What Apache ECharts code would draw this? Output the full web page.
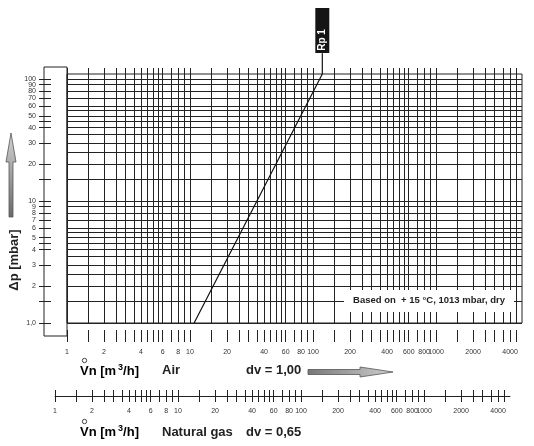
<!DOCTYPE html>
<html>
<head>
<meta charset="utf-8">
<title>Rp 1 - pressure drop</title>
<script src="https://cdn.jsdelivr.net/npm/echarts@6/dist/echarts.min.js"></script>
<style>
  html, body { margin: 0; padding: 0; background: #fff; }
  #chart { width: 534px; height: 446px; }
</style>
</head>
<body>
<div id="chart"></div>
<script>
  // log-log grid lines, flow axis (m3/h)
  const flowGrid = [1, 1.5, 2, 2.5, 3, 3.5, 4, 4.5, 5, 5.5, 6, 7, 8, 9,
    10, 15, 20, 25, 30, 35, 40, 45, 50, 55, 60, 70, 80, 90,
    100, 150, 200, 250, 300, 350, 400, 450, 500, 550, 600, 700, 800, 900,
    1000, 1500, 2000, 2500, 3000, 3500, 4000, 4500];
  const flowLabels = [1, 2, 4, 6, 8, 10, 20, 40, 60, 80, 100, 200, 400, 600, 800, 1000, 2000, 4000];

  // pressure drop axis (mbar)
  const dropGrid = [1, 1.5, 2, 2.5, 3, 3.5, 4, 4.5, 5, 5.5, 6, 7, 8, 9,
    10, 15, 20, 25, 30, 35, 40, 45, 50, 55, 60, 70, 80, 90, 100];
  const dropTicks = [1, 1.5, 2, 3, 4, 4.5, 5, 6, 7, 8, 9, 10, 15, 20, 30, 40, 45, 50, 60, 70, 80, 90, 100];
  const dropLabels = [1, 2, 3, 4, 5, 6, 7, 8, 9, 10, 20, 30, 40, 50, 60, 70, 80, 90, 100];

  // Rp 1 curve (air)
  const rpFlow = [10.8, 119];
  const rpDrop = [1.0, 110];
  const rpTagDrop = 163;

  const flowMin = 1, flowMax = 5000;
  const dropMin = 1, dropMax = 110;

  const ink = '#222';
  const font = 'Liberation Sans, Arial, sans-serif';

  function flowAxis(gridIndex) {
    return {
      type: 'log', logBase: 10, gridIndex: gridIndex, min: flowMin, max: flowMax,
      axisLine: { show: false, onZero: false },
      axisTick: { show: false, customValues: flowGrid },
      axisLabel: { show: false },
      splitLine: { show: true, lineStyle: { color: ink, width: 1 } },
    };
  }
  function bandY(gridIndex) {
    return { type: 'value', gridIndex: gridIndex, min: 0, max: 1, show: false };
  }
  const labelNum = (v) => String(Math.round(v));

  const airAxis = flowAxis(2);
  airAxis.axisLabel = {
    show: true, customValues: flowLabels, formatter: labelNum, hideOverlap: false,
    showMinLabel: true, showMaxLabel: true,
    fontSize: 7, color: '#333', margin: 7,
  };
  const gasAxis = flowAxis(3);
  gasAxis.offset = -6;
  gasAxis.axisLine = { show: true, onZero: false, lineStyle: { color: ink, width: 1 } };
  gasAxis.axisLabel = {
    show: true, customValues: flowLabels, formatter: labelNum, hideOverlap: false,
    showMinLabel: true, showMaxLabel: true,
    fontSize: 7, color: '#333', margin: 12,
  };

  const greyUp = {
    type: 'linear', x: 0, y: 0, x2: 0, y2: 1,
    colorStops: [{ offset: 0, color: '#d4d4d4' }, { offset: 1, color: '#6a6a6a' }],
  };
  const greyRight = {
    type: 'linear', x: 0, y: 0, x2: 1, y2: 0,
    colorStops: [{ offset: 0, color: '#777' }, { offset: 1, color: '#cfcfcf' }],
  };
  const boldText = (text, x, y) => ({
    type: 'text', x: x, y: y,
    style: { text: text, fill: ink, font: 'bold 13px ' + font, verticalAlign: 'middle' },
  });
  const flowUnit = (x, y) => ({
    type: 'text', x: x, y: y,
    style: {
      text: '{t|Vn [m}{s|3}{t|/h]}', verticalAlign: 'middle',
      rich: {
        t: { fontSize: 13, fontWeight: 'bold', fontFamily: font, color: ink, lineHeight: 15 },
        s: { fontSize: 9, fontWeight: 'bold', fontFamily: font, color: ink, lineHeight: 9, verticalAlign: 'top', padding: [0, 0, 0, 2] },
      },
    },
  });
  const ring = (cx, cy) => ({
    type: 'circle', shape: { cx: cx, cy: cy, r: 2.2 },
    style: { fill: 'none', stroke: '#333', lineWidth: 0.9 },
  });

  const chart = echarts.init(document.getElementById('chart'));
  chart.setOption({
    animation: false,
    backgroundColor: '#fff',
    textStyle: { fontFamily: font },
    grid: [
      { left: 67, top: 74, width: 455, height: 249, show: true, borderColor: ink, borderWidth: 1 },
      { left: 67, top: 68, width: 455, height: 6 },
      { left: 67, top: 330, width: 455, height: 12 },
      { left: 55, top: 390, width: 455, height: 12 },
      { left: 39, top: 74, width: 12, height: 249 },
    ],
    xAxis: [
      flowAxis(0),
      flowAxis(1),
      airAxis,
      gasAxis,
      { type: 'value', gridIndex: 4, show: false },
    ],
    yAxis: [
      {
        type: 'log', logBase: 10, gridIndex: 0, min: dropMin, max: dropMax,
        axisLine: { show: false },
        axisTick: { show: false, customValues: dropGrid },
        axisLabel: { show: false },
        splitLine: { show: true, lineStyle: { color: ink, width: 1 } },
      },
      bandY(1),
      bandY(2),
      bandY(3),
      {
        type: 'log', logBase: 10, gridIndex: 4, min: dropMin, max: dropMax,
        axisLine: { show: false },
        axisTick: { show: false, customValues: dropTicks },
        axisLabel: {
          // empty end label at the top so 90 and 100 both stay visible
          customValues: dropLabels.concat([dropMax]), fontSize: 7, lineHeight: 4, color: '#333', margin: 3,
          hideOverlap: false, showMinLabel: true, showMaxLabel: false,
          formatter: (v) => (v > 100.5 ? '' : Math.round(v) === 1 ? '1,0' : labelNum(v)),
        },
        splitLine: { show: true, lineStyle: { color: ink, width: 1 } },
      },
    ],
    graphic: [
      // box behind the pressure drop scale
      { type: 'rect', shape: { x: 44, y: 67, width: 23, height: 269 }, style: { fill: 'none', stroke: ink, lineWidth: 1 } },
      {
        type: 'polygon',
        shape: { points: [[11, 133], [16, 162], [13, 162], [13, 217], [9, 217], [9, 162], [6, 162]] },
        style: { fill: greyUp, stroke: '#555', lineWidth: 0.8 },
      },
      {
        type: 'text', x: 14, y: 260, rotation: Math.PI / 2,
        style: { text: 'Δp [mbar]', fill: ink, font: 'bold 13px ' + font, align: 'center', verticalAlign: 'middle' },
      },
      // conditions note
      { type: 'rect', z: 100, shape: { x: 344, y: 290, width: 170, height: 22 }, style: { fill: '#fff' } },
      {
        type: 'text', z: 101, x: 429, y: 300,
        style: { text: 'Based on  + 15 °C, 1013 mbar, dry', fill: ink, font: 'bold 9.5px ' + font, align: 'center', verticalAlign: 'middle' },
      },
      // air row
      flowUnit(80, 371),
      ring(84.5, 360.5),
      boldText('Air', 162, 370),
      boldText('dv = 1,00', 246, 370),
      {
        type: 'polygon',
        shape: { points: [[308, 369.5], [360, 369.5], [360, 367], [393, 372], [360, 377], [360, 374.5], [308, 374.5]] },
        style: { fill: greyRight, stroke: '#555', lineWidth: 0.8 },
      },
      // natural gas row
      flowUnit(80, 432),
      ring(84.5, 421.5),
      boldText('Natural gas', 162, 432),
      boldText('dv = 0,65', 246, 432),
    ],
    series: [
      {
        name: 'Rp 1',
        type: 'line',
        xAxisIndex: 0,
        yAxisIndex: 0,
        data: rpFlow.map((v, i) => [v, rpDrop[i]]).concat([[rpFlow[rpFlow.length - 1], rpTagDrop]]),
        symbol: 'none',
        clip: false,
        z: 5,
        lineStyle: { color: '#111', width: 1.2 },
        markPoint: {
          symbol: 'rect',
          symbolSize: [14, 45],
          symbolOffset: [0, -43.5],
          itemStyle: { color: '#151515' },
          label: {
            show: true, formatter: 'Rp 1', rotate: 90, position: [7, 32],
            align: 'center', verticalAlign: 'middle',
            color: '#fff', fontWeight: 'bold', fontSize: 10,
          },
          data: [{ coord: [rpFlow[rpFlow.length - 1], rpDrop[rpDrop.length - 1]] }],
        },
      },
    ],
  });
</script>
</body>
</html>
